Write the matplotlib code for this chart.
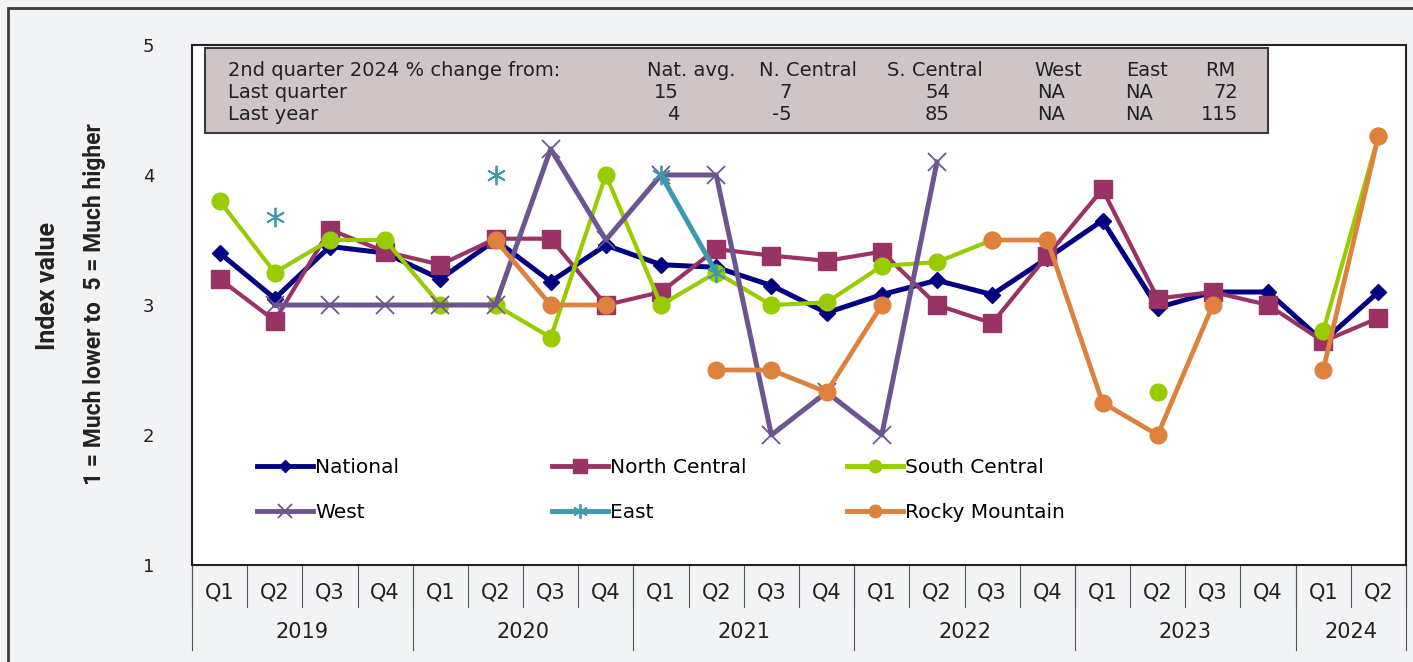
import numpy as np
import matplotlib
matplotlib.use("Agg")
import matplotlib.pyplot as plt
from matplotlib.patches import Rectangle
from matplotlib.lines import Line2D
from matplotlib.legend import Legend

nan = np.nan

# ---- data ----
years = ["2019", "2020", "2021", "2022", "2023", "2024"]
quarters_per_year = [4, 4, 4, 4, 4, 2]
quarter_labels = ["Q1", "Q2", "Q3", "Q4"] * 5 + ["Q1", "Q2"]

national = [3.40, 3.05, 3.45, 3.40, 3.20, 3.50, 3.18, 3.46, 3.31, 3.29, 3.15,
            2.94, 3.08, 3.19, 3.08, 3.36, 3.65, 2.98, 3.10, 3.10, 2.72, 3.10]
north_central = [3.20, 2.88, 3.58, 3.41, 3.31, 3.51, 3.51, 3.00, 3.10, 3.43, 3.38,
                 3.34, 3.41, 3.00, 2.86, 3.38, 3.89, 3.05, 3.10, 3.00, 2.72, 2.90]
south_central = [3.80, 3.25, 3.50, 3.50, 3.00, 3.00, 2.75, 4.00, 3.00, 3.25, 3.00,
                 3.02, 3.30, 3.33, 3.50, nan, nan, 2.33, nan, nan, 2.80, 4.30]
west = [nan, 3.0, 3.0, 3.0, 3.0, 3.0, 4.2, 3.5, 4.0, 4.0, 2.0,
        2.33, 2.0, 4.1, nan, nan, nan, nan, nan, nan, nan, nan]
east = [nan, 3.68, nan, nan, nan, 4.0, nan, nan, 4.0, 3.25, nan,
        nan, nan, nan, nan, nan, nan, nan, nan, nan, nan, nan]
rocky_mountain = [nan, nan, nan, nan, nan, 3.5, 3.0, 3.0, nan, 2.5, 2.5,
                  2.33, 3.0, nan, 3.5, 3.5, 2.25, 2.0, 3.0, nan, 2.5, 4.3]

table_title = "2nd quarter 2024 % change from:"
table_cols = ["Nat. avg.", "N. Central", "S. Central", "West", "East", "RM"]
table_rows = ["Last quarter", "Last year"]
last_quarter = ["15", "7", "54", "NA", "NA", "72"]
last_year = ["4", "-5", "85", "NA", "NA", "115"]

# ---- figure ----
W, H = 1413, 662
fig = plt.figure(figsize=(W / 100, H / 100), dpi=100)
fig.patch.set_facecolor("#f2f3f5")

def fx(x):
    return x / W

def fy(y):
    return 1 - y / H

TXT = "#222222"
FAM = ["DejaVu Sans"]
NARROW = ["Roboto", "DejaVu Sans"]

# outer frame (only left/top visible)
fig.patches.append(Rectangle((fx(8), fy(668)), fx(1420) - fx(8), fy(8) - fy(668),
                             transform=fig.transFigure, fill=False,
                             edgecolor="#3a3a3a", lw=2, zorder=0))

ax = fig.add_axes([fx(192), fy(565), fx(1406) - fx(192), fy(45) - fy(565)])
ax.set_facecolor("white")

x = np.arange(len(national))
series = [
    ("National", national, "#000080", "D", 8, 3.6, 1),
    ("North Central", north_central, "#993366", "s", 13, 3.0, 1),
    ("South Central", south_central, "#99cc00", "o", 12, 3.0, 1),
    ("West", west, "#6c5590", "x", 13, 3.6, 1.3),
    ("East", east, "#3d99ad", (6, 2, 0), 14, 3.6, 1.3),
    ("Rocky Mountain", rocky_mountain, "#dd813d", "o", 12, 3.4, 1),
]
handles = {}
for name, vals, col, mk, ms, lw, mew in series:
    ln, = ax.plot(x, vals, color=col, marker=mk, markersize=ms, lw=lw,
                  markeredgewidth=mew, markeredgecolor=col, clip_on=False,
                  label=name)
    handles[name] = ln

ax.set_xlim(-0.5, len(x) - 0.5)
ax.set_ylim(1, 5)
ax.set_yticks([1, 2, 3, 4, 5])
ax.tick_params(axis="y", length=0, pad=27, labelsize=13, labelcolor=TXT)
ax.set_xticks([])
for s in ax.spines.values():
    s.set_color("#222222")
    s.set_linewidth(1.5)

# category axis
tr = ax.get_xaxis_transform()
for i, q in enumerate(quarter_labels):
    ax.text(i, -0.052, q, transform=tr, ha="center", va="center",
            fontsize=15, color=TXT, family=FAM)
for b in range(len(x) + 1):
    ax.plot([b - 0.5, b - 0.5], [0, -0.081], transform=tr, color="#555555",
            lw=0.8, clip_on=False)
start = 0
for yr, n in zip(years, quarters_per_year):
    ax.plot([start - 0.5, start - 0.5], [0, -0.163], transform=tr, color="#555555",
            lw=0.8, clip_on=False)
    ax.text(start + (n - 1) / 2, -0.129, yr, transform=tr, ha="center", va="center",
            fontsize=15, color=TXT, family=FAM)
    start += n
ax.plot([start - 0.5, start - 0.5], [0, -0.163], transform=tr, color="#555555",
        lw=0.8, clip_on=False)

# y label
fig.text(fx(48), fy(286), "Index value", rotation=90, ha="center", va="center",
         fontsize=18, fontweight="bold", color=TXT, family=NARROW)
fig.text(fx(95), fy(304), "1 = Much lower to  5 = Much higher", rotation=90,
         ha="center", va="center", fontsize=16.5, fontweight="bold", color=TXT,
         family=NARROW)

# legend: three columns, two rows
leg_font = {"family": FAM, "size": 14.5}
cols = [("National", "West", 257), ("North Central", "East", 552),
        ("South Central", "Rocky Mountain", 847)]
for a, b, px in cols:
    hs = []
    for nm in (a, b):
        h = handles[nm]
        hs.append(Line2D([], [], color=h.get_color(), marker=h.get_marker(),
                         markersize=h.get_markersize() * 0.75, lw=3.5,
                         markeredgewidth=h.get_markeredgewidth(),
                         markeredgecolor=h.get_color()))
    lg = Legend(ax, hs, [a, b], loc="upper left",
                bbox_to_anchor=(fx(px), fy(458)), bbox_transform=fig.transFigure,
                frameon=False, prop=leg_font, handlelength=2.8, handletextpad=0.1,
                labelspacing=1.3, borderaxespad=0, borderpad=0)
    ax.add_artist(lg)

# summary table
fig.patches.append(Rectangle((fx(205), fy(133)), fx(1268) - fx(205), fy(48) - fy(133),
                             transform=fig.transFigure, facecolor="#cfc4c6",
                             edgecolor="#3a3a3a", lw=1.5, zorder=4))
tfont = dict(fontsize=14, color=TXT, family=FAM, va="center", zorder=5)
row_y = [70, 92, 115]
fig.text(fx(228), fy(row_y[0]), table_title, ha="left", **tfont)
head_x = [691, 808, 935, 1058, 1147, 1220]
for hx, h in zip(head_x, table_cols):
    fig.text(fx(hx), fy(row_y[0]), h, ha="center", **tfont)
val_x = [679, 792, 950, 1065, 1153, 1238]
for r, (rn, vals) in enumerate(zip(table_rows, [last_quarter, last_year])):
    fig.text(fx(228), fy(row_y[r + 1]), rn, ha="left", **tfont)
    for vx, v in zip(val_x, vals):
        fig.text(fx(vx), fy(row_y[r + 1]), v, ha="right", **tfont)

fig.savefig("out.png", dpi=100, facecolor=fig.get_facecolor())
